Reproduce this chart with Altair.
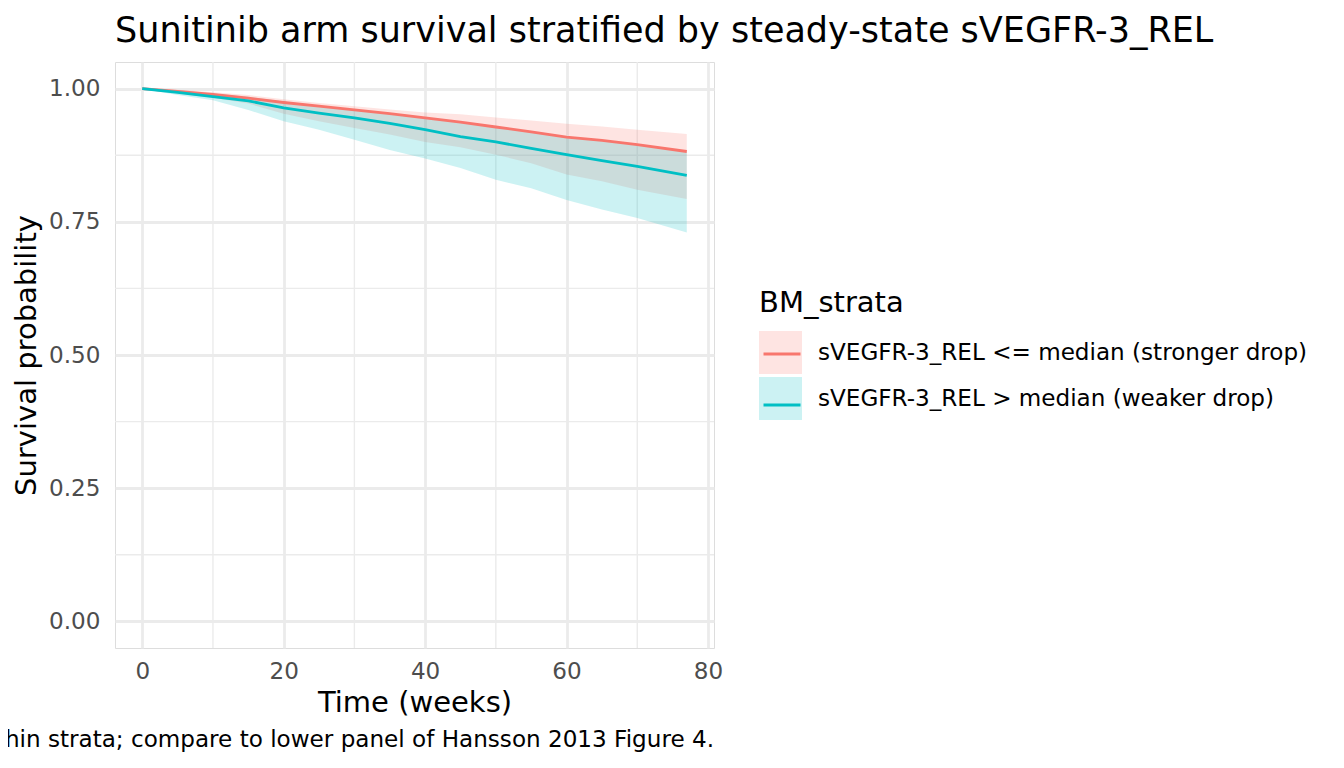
import altair as alt
import pandas as pd

# ---- data ----
times = [0, 5, 10, 15, 20, 25, 30, 35, 40, 45, 50, 55, 60, 65, 70, 77]

le_label = "sVEGFR-3_REL <= median (stronger drop)"
gt_label = "sVEGFR-3_REL > median (weaker drop)"

le_surv  = [1.000, 0.995, 0.989, 0.982, 0.974, 0.967, 0.960, 0.953, 0.945, 0.937, 0.928, 0.919, 0.909, 0.903, 0.895, 0.882]
le_upper = [1.000, 0.998, 0.993, 0.988, 0.980, 0.973, 0.967, 0.961, 0.955, 0.952, 0.946, 0.940, 0.934, 0.929, 0.923, 0.915]
le_lower = [1.000, 0.991, 0.983, 0.972, 0.953, 0.939, 0.926, 0.914, 0.900, 0.890, 0.876, 0.860, 0.839, 0.826, 0.810, 0.793]

gt_surv  = [1.000, 0.993, 0.985, 0.977, 0.964, 0.954, 0.945, 0.935, 0.923, 0.910, 0.900, 0.888, 0.876, 0.865, 0.854, 0.837]
gt_upper = [1.000, 0.997, 0.991, 0.985, 0.976, 0.968, 0.960, 0.953, 0.945, 0.936, 0.928, 0.918, 0.908, 0.902, 0.894, 0.882]
gt_lower = [1.000, 0.988, 0.978, 0.960, 0.939, 0.923, 0.904, 0.885, 0.869, 0.851, 0.829, 0.813, 0.791, 0.773, 0.757, 0.730]

x_major = [0, 20, 40, 60, 80]
x_minor = [10, 30, 50, 70]
y_major = [0.0, 0.25, 0.5, 0.75, 1.0]
y_minor = [0.125, 0.375, 0.625, 0.875]

title_text = "Sunitinib arm survival stratified by steady-state sVEGFR-3_REL"
caption_text = "hin strata; compare to lower panel of Hansson 2013 Figure 4."

strata_domain = [le_label, gt_label]
line_keys = ["le", "gt"]
strata_colors = ["#F8766D", "#00BFC4"]

# ---- tables ----
df = pd.concat([
    pd.DataFrame({"time": times, "strata": le_label, "key": line_keys[0], "surv": le_surv,
                  "lower": le_lower, "upper": le_upper}),
    pd.DataFrame({"time": times, "strata": gt_label, "key": line_keys[1], "surv": gt_surv,
                  "lower": gt_lower, "upper": gt_upper}),
], ignore_index=True)
df_xminor = pd.DataFrame({"time": x_minor})
df_yminor = pd.DataFrame({"surv": y_minor})
df_cap = pd.DataFrame({"caption": [caption_text]})

FONT = "DejaVu Sans"
GRID = "#EBEBEB"
SMALL = 23.1

xscale = alt.Scale(domain=[-3.85, 80.85], nice=False, zero=False)
yscale = alt.Scale(domain=[-0.05, 1.05], nice=False, zero=False)

xaxis = alt.Axis(title="Time (weeks)", values=x_major, labelFlush=False,
                 domain=False, ticks=False, tickSize=0, labelPadding=12,
                 grid=True, gridColor=GRID, gridWidth=2.8,
                 labelColor="#4D4D4D", labelFontSize=SMALL, labelFont=FONT,
                 titleFont=FONT, titleFontSize=29, titleFontWeight="normal",
                 titleColor="black", titlePadding=5)
yaxis = alt.Axis(title="Survival probability", values=y_major, format=".2f",
                 domain=False, ticks=False, tickSize=0, labelPadding=15,
                 grid=True, gridColor=GRID, gridWidth=2.8,
                 labelColor="#4D4D4D", labelFontSize=SMALL, labelFont=FONT,
                 titleFont=FONT, titleFontSize=29, titleFontWeight="normal",
                 titleColor="black", titlePadding=7)

fill_legend = alt.Legend(
    title="BM_strata", orient="none", legendX=644, legendY=227, padding=0,
    symbolType="square", symbolSize=1849, symbolOpacity=0.2,
    symbolStrokeWidth=0,
    labelFont=FONT, labelFontSize=SMALL, labelColor="black", labelOffset=16,
    labelLimit=1000, rowPadding=3,
    titleFont=FONT, titleFontSize=29, titleFontWeight="normal",
    titleColor="black", titlePadding=13, titleLimit=1000,
)
stroke_legend = alt.Legend(
    title="BM_strata", orient="none", legendX=644, legendY=227, padding=0,
    symbolType="M-1,-1M-0.86,0H0.86M1,1", symbolSize=1849,
    symbolStrokeWidth=2.8, symbolFillColor="transparent",
    labelFont=FONT, labelFontSize=SMALL, labelColor="transparent", labelOffset=16,
    labelExpr="''", labelLimit=1000, rowPadding=-14,
    titleFont=FONT, titleFontSize=29, titleFontWeight="normal",
    titleColor="transparent", titlePadding=13, titleLimit=1000,
)

minor_x = alt.Chart(df_xminor).mark_rule(color=GRID, strokeWidth=1.4).encode(
    x=alt.X("time:Q", scale=xscale, axis=xaxis)
)
minor_y = alt.Chart(df_yminor).mark_rule(color=GRID, strokeWidth=1.4).encode(
    y=alt.Y("surv:Q", scale=yscale, axis=yaxis)
)

band = alt.Chart(df).mark_area(fillOpacity=0.2, interpolate="linear").encode(
    x=alt.X("time:Q", scale=xscale, axis=xaxis),
    y=alt.Y("lower:Q", scale=yscale, axis=yaxis),
    y2="upper:Q",
    fill=alt.Fill("strata:N", scale=alt.Scale(domain=strata_domain, range=strata_colors),
                  legend=fill_legend),
)

line = alt.Chart(df).mark_line(strokeWidth=2.8, interpolate="linear").encode(
    x=alt.X("time:Q", scale=xscale, axis=xaxis),
    y=alt.Y("surv:Q", scale=yscale, axis=yaxis),
    stroke=alt.Stroke("key:N", scale=alt.Scale(domain=line_keys, range=strata_colors),
                      legend=stroke_legend),
)

caption = alt.Chart(df_cap).mark_text(
    align="right", baseline="alphabetic", font=FONT, fontSize=SMALL, color="black"
).encode(x=alt.value(599), y=alt.value(685), text="caption:N")

chart = alt.layer(minor_x, minor_y, band, line, caption).properties(
    width=599, height=586,
    title=alt.TitleParams(text=title_text, anchor="start", frame="group",
                          font=FONT, fontSize=35, fontWeight="normal",
                          color="black", offset=20, dy=36, baseline="alphabetic"),
    autosize=alt.AutoSizeParams(type="none"),
    padding={"left": 107, "top": 54, "right": 622, "bottom": 112},
).configure_view(strokeWidth=0).configure(background="white")

chart.save("out.html", embed_options={"renderer": "svg", "actions": False})
